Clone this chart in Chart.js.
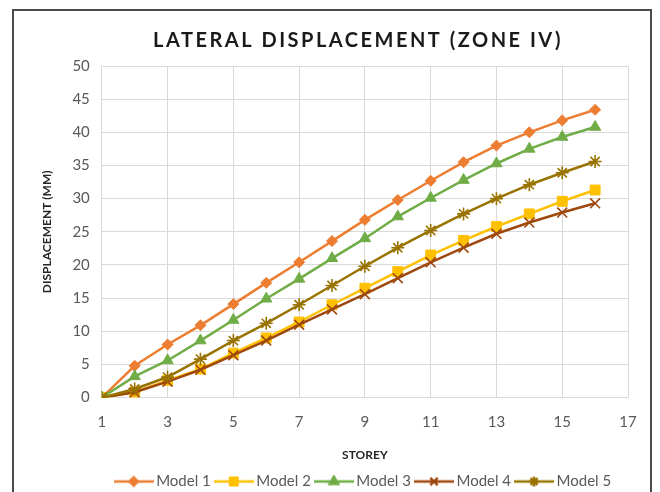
<!DOCTYPE html>
<html>
<head>
<meta charset="utf-8">
<script src="https://cdn.jsdelivr.net/npm/chart.js@4/dist/chart.umd.min.js"></script>
<style>
  html, body { margin: 0; padding: 0; background: #fff; overflow: hidden; }
  #wrap { position: relative; width: 660px; height: 492px; overflow: hidden; }
  #frame {
    position: absolute; left: 12px; top: 9px; width: 636px; height: 500px;
    border: 2px solid #4a4a4a; pointer-events: none;
  }
  canvas { position: absolute; left: 0; top: 0; }
</style>
</head>
<body>
<div id="wrap">
  <canvas id="chart" width="660" height="499"></canvas>
  <div id="frame"></div>
</div>
<script>
const chartTitle = 'LATERAL DISPLACEMENT (ZONE IV)';
const storeys = [1, 2, 3, 4, 5, 6, 7, 8, 9, 10, 11, 12, 13, 14, 15, 16];
const model1 = [0, 4.8, 8.0, 10.9, 14.1, 17.3, 20.4, 23.6, 26.8, 29.8, 32.7, 35.5, 38.0, 40.0, 41.8, 43.4];
const model2 = [0, 0.8, 2.6, 4.3, 6.7, 9.0, 11.4, 14.0, 16.5, 19.0, 21.5, 23.7, 25.8, 27.7, 29.6, 31.3];
const model3 = [0, 3.2, 5.6, 8.6, 11.7, 14.9, 17.9, 21.0, 24.0, 27.3, 30.1, 32.8, 35.3, 37.5, 39.3, 40.8];
const model4 = [0, 0.8, 2.4, 4.2, 6.4, 8.6, 11.0, 13.3, 15.6, 18.0, 20.4, 22.6, 24.7, 26.4, 27.9, 29.3];
const model5 = [0, 1.3, 3.1, 5.8, 8.6, 11.2, 14.0, 16.9, 19.8, 22.6, 25.2, 27.7, 30.0, 32.1, 33.9, 35.6];
const seriesNames = ['Model 1', 'Model 2', 'Model 3', 'Model 4', 'Model 5'];
const seriesValues = [model1, model2, model3, model4, model5];
const xTicks = [1, 3, 5, 7, 9, 11, 13, 15, 17];

const colors = ['#ED7D31', '#FFC000', '#70AD47', '#9E480E', '#997300'];
const markers = [
  { pointStyle: 'rectRot', radius: 5.5, filled: true },
  { pointStyle: 'rect', radius: 7, filled: true },
  { pointStyle: 'triangle', radius: 6.5, filled: true },
  { pointStyle: 'crossRot', radius: 7, filled: false },
  { pointStyle: 'star', radius: 6.5, filled: false }
];

// legend icon: short line with the marker in the middle (Excel style)
function legendIcon(i) {
  const c = document.createElement('canvas');
  c.width = 40; c.height = 14;
  const g = c.getContext('2d');
  g.strokeStyle = colors[i];
  g.fillStyle = colors[i];
  g.lineWidth = 2.5;
  g.beginPath(); g.moveTo(0, 7); g.lineTo(40, 7); g.stroke();
  Chart.helpers.drawPoint(g, {
    pointStyle: markers[i].pointStyle,
    radius: markers[i].radius * 0.75,
    rotation: 0,
    borderWidth: markers[i].filled ? 1 : 1.5
  }, 20, 7);
  return c;
}

const datasets = seriesNames.map((name, i) => ({
  label: name,
  data: storeys.map((s, k) => ({ x: s, y: seriesValues[i][k] })),
  borderColor: colors[i],
  backgroundColor: colors[i],
  borderWidth: 2.5,
  tension: 0,
  pointStyle: markers[i].pointStyle,
  pointRadius: markers[i].radius,
  pointBackgroundColor: colors[i],
  pointBorderColor: colors[i],
  pointBorderWidth: markers[i].filled ? 1 : 1.6,
  order: seriesNames.length - i // later series on top
}));

const titlePlugin = {
  id: 'zoneTitle',
  afterDraw(chart) {
    const ctx = chart.ctx;
    ctx.save();
    ctx.font = 'bold 20px Lato';
    ctx.letterSpacing = '2.5px';
    ctx.fillStyle = '#1a1a1a';
    ctx.textAlign = 'center';
    ctx.textBaseline = 'middle';
    ctx.fillText(chartTitle, 358, 41);
    ctx.restore();
  }
};

new Chart(document.getElementById('chart').getContext('2d'), {
  type: 'line',
  data: { datasets },
  plugins: [titlePlugin],
  options: {
    responsive: false,
    devicePixelRatio: 1,
    animation: false,
    layout: { padding: { top: 66, left: 40, right: 32, bottom: 0 } },
    scales: {
      x: {
        type: 'linear',
        min: 1,
        max: 17,
        afterBuildTicks: (axis) => { axis.ticks = xTicks.map(v => ({ value: v })); },
        grid: { color: '#d9d9d9', lineWidth: 1, drawTicks: false },
        border: { color: '#d9d9d9' },
        ticks: { color: '#595959', font: { family: 'Lato', size: 15 }, padding: 16, maxRotation: 0 },
        title: {
          display: true, text: 'STOREY', color: '#262626',
          font: { family: 'Lato', size: 12, weight: 'bold' },
          padding: { top: 0, bottom: 4 }
        }
      },
      y: {
        min: 0,
        max: 50,
        ticks: { stepSize: 5, color: '#595959', font: { family: 'Lato', size: 15 }, padding: 12 },
        grid: { color: '#d9d9d9', lineWidth: 1, drawTicks: false },
        border: { color: '#d9d9d9' },
        title: {
          display: true, text: 'DISPLACEMENT (MM)', color: '#262626',
          font: { family: 'Lato', size: 12, weight: 'bold' },
          padding: { top: 0, bottom: 6 }
        }
      }
    },
    plugins: {
      title: { display: false },
      tooltip: { enabled: false },
      legend: {
        position: 'bottom',
        fullSize: false,
        labels: {
          usePointStyle: true,
          pointStyleWidth: 30,
          padding: 8,
          color: '#595959',
          font: { family: 'Lato', size: 15 },
          sort: (a, b) => a.datasetIndex - b.datasetIndex,
          generateLabels: (chart) => {
            const items = Chart.defaults.plugins.legend.labels.generateLabels(chart);
            items.forEach(it => { it.pointStyle = legendIcon(it.datasetIndex); });
            return items;
          }
        }
      }
    }
  }
});
</script>
</body>
</html>
